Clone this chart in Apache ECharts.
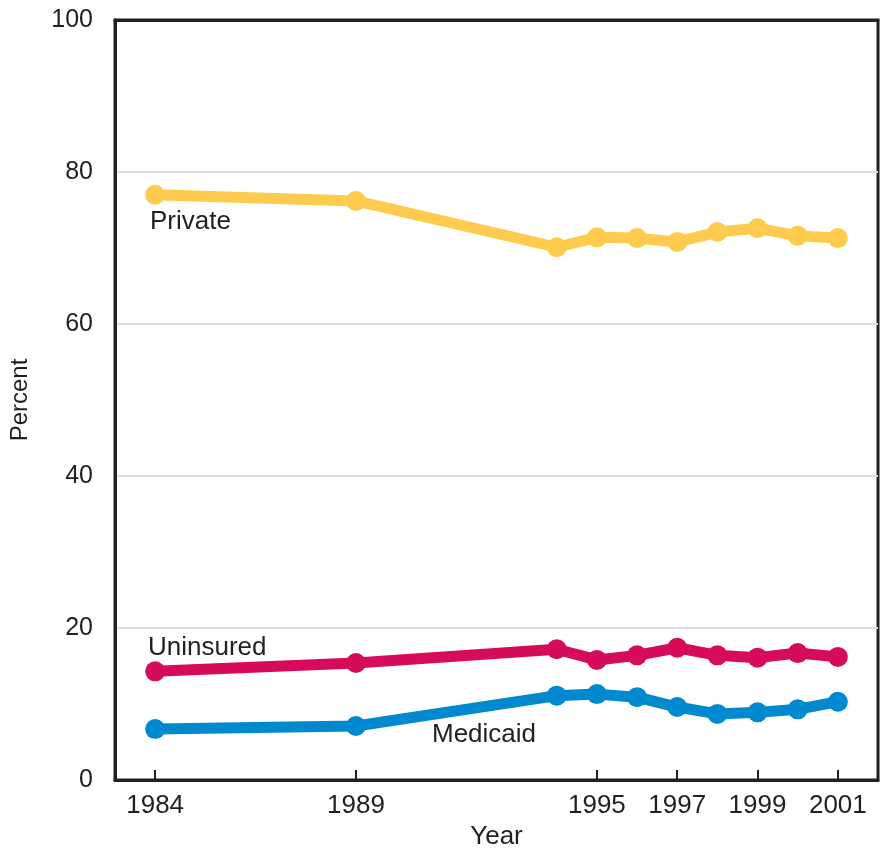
<!DOCTYPE html>
<html>
<head>
<meta charset="utf-8">
<script src="https://cdn.jsdelivr.net/npm/echarts@6/dist/echarts.min.js"></script>
<style>
html,body{margin:0;padding:0;background:#fff;}
#chart{width:885px;height:850px;}
</style>
</head>
<body>
<div id="chart"></div>
<script>
const years = [1984, 1989, 1994, 1995, 1996, 1997, 1998, 1999, 2000, 2001];
const privateVals = [77.0, 76.2, 70.1, 71.4, 71.3, 70.8, 72.1, 72.6, 71.6, 71.3];
const uninsuredVals = [14.3, 15.4, 17.2, 15.8, 16.4, 17.4, 16.4, 16.1, 16.7, 16.2];
const medicaidVals = [6.7, 7.1, 11.1, 11.3, 10.9, 9.6, 8.7, 8.9, 9.3, 10.3];
const xTickYears = [1984, 1989, 1995, 1997, 1999, 2001];

const font = 'Liberation Sans, Arial, sans-serif';
const dark = '#231f20';

function pairs(vals){ return years.map((y,i)=>[y, vals[i]]); }
function series(name, vals, color){
  return {
    name, type:'line', data:pairs(vals),
    lineStyle:{width:11, color},
    itemStyle:{color},
    symbol:'circle', symbolSize:20,
    showAllSymbol:true, animation:false, z:3
  };
}

const chart = echarts.init(document.getElementById('chart'));
chart.setOption({
  animation:false,
  grid:{left:115, right:7, top:20, bottom:70, outerBoundsMode:'none', containLabel:false,
        show:true, borderColor:dark, borderWidth:3, backgroundColor:'transparent'},
  xAxis:[{
    type:'value', min:1983, max:2002,
    name:'Year', nameLocation:'middle', nameGap:44,
    nameTextStyle:{fontFamily:font, fontSize:26, color:dark},
    axisLine:{lineStyle:{color:dark, width:3}},
    axisTick:{show:true, inside:true, length:10, customValues:xTickYears, lineStyle:{color:dark, width:2}},
    axisLabel:{customValues:xTickYears, formatter:v=>String(v), fontFamily:font, fontSize:26, color:dark, margin:13},
    splitLine:{show:false}
  },{
    type:'value', min:1983, max:2002, position:'top',
    axisLine:{show:true, lineStyle:{color:dark, width:3}},
    axisTick:{show:false}, axisLabel:{show:false}, splitLine:{show:false}, z:10
  }],
  yAxis:{
    type:'value', min:0, max:100, interval:20,
    name:'Percent', nameLocation:'middle', nameGap:83,
    nameTextStyle:{fontFamily:font, fontSize:24, color:dark},
    axisLine:{show:true, lineStyle:{color:dark, width:3}},
    axisTick:{show:false},
    axisLabel:{fontFamily:font, fontSize:25, color:dark, margin:22},
    splitLine:{show:true, lineStyle:{color:'#dcdedf', width:2}}
  },
  series:[
    series('Private', privateVals, '#ffcb4f'),
    series('Uninsured', uninsuredVals, '#d60b5a'),
    series('Medicaid', medicaidVals, '#0089cf')
  ],
  graphic:[
    {type:'text', left:150, top:209, style:{text:'Private', font:'26px Liberation Sans, Arial, sans-serif', fill:dark}},
    {type:'text', left:148, top:635, style:{text:'Uninsured', font:'26px Liberation Sans, Arial, sans-serif', fill:dark}},
    {type:'text', left:432, top:722, style:{text:'Medicaid', font:'26px Liberation Sans, Arial, sans-serif', fill:dark}}
  ]
});
</script>
</body>
</html>
